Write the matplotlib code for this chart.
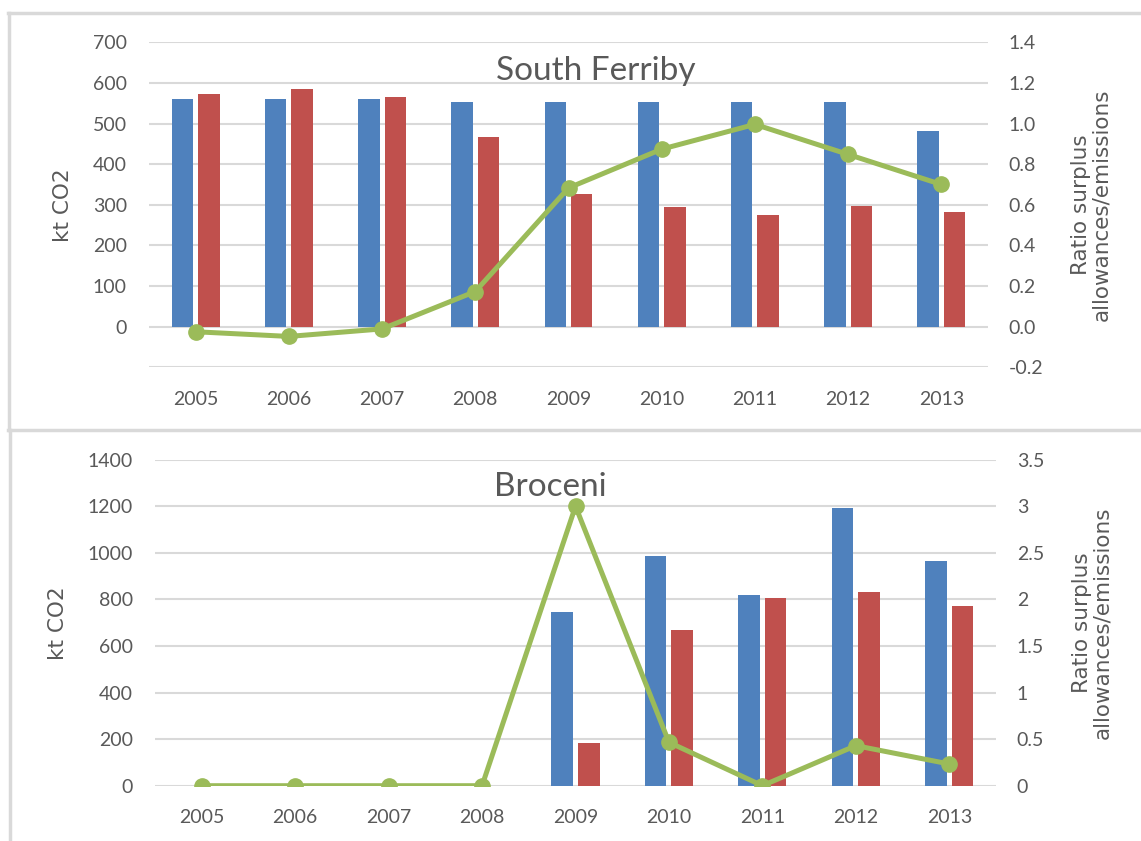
import matplotlib
matplotlib.use('Agg')
import matplotlib.pyplot as plt
from matplotlib.lines import Line2D
from matplotlib.ticker import FuncFormatter
import numpy as np

years = ['2005', '2006', '2007', '2008', '2009', '2010', '2011', '2012', '2013']

# South Ferriby
sf_blue = [560, 560, 560, 554, 554, 554, 554, 554, 481]
sf_red = [573, 586, 565, 468, 327, 295, 276, 298, 282]
sf_ratio = [-0.025, -0.048, -0.011, 0.173, 0.683, 0.874, 0.996, 0.848, 0.700]

# Broceni
br_blue = [0, 0, 0, 0, 744, 987, 817, 1192, 964]
br_red = [0, 0, 0, 0, 182, 667, 804, 833, 773]
br_ratio = [0, 0, 0, 0, 3.0, 0.466, 0.0, 0.43, 0.233]

BLUE = '#4f81bd'
RED = '#c0504d'
GREEN = '#9bbb59'
GRID = '#d9d9d9'
TXT = '#595959'

W, H = 1141, 841
fig = plt.figure(figsize=(W / 100, H / 100), dpi=100)
fig.patch.set_facecolor('white')

tick_font = 'Lato'
x = np.arange(len(years))
bw = 0.23
off = 0.142


def panel(rect, blue, red, ratio, ylim, yticks, rlim, rticks, rfmt, title, tx, ty):
    ax = fig.add_axes(rect)
    ax.bar(x - off, blue, bw, color=BLUE, zorder=2)
    ax.bar(x + off, red, bw, color=RED, zorder=2)
    ax.set_xlim(-0.5, len(years) - 0.5)
    ax.set_ylim(*ylim)
    ax.set_yticks(yticks)
    ax.yaxis.set_major_formatter(FuncFormatter(lambda v, p: '' if v < 0 else '%d' % v))
    ax.grid(axis='y', color=GRID, lw=1.5)
    ax.set_axisbelow(True)
    ax.set_xticks(x)
    ax.set_xticklabels(years)
    for s in ax.spines.values():
        s.set_visible(False)
    ax.tick_params(length=0, colors=TXT, labelsize=14)
    ax.tick_params(axis='y', pad=16)
    ax.tick_params(axis='x', pad=17)
    for lab in ax.get_xticklabels() + ax.get_yticklabels():
        lab.set_fontfamily(tick_font)
    ax.set_ylabel('kt CO2', color=TXT, fontsize=15.5, family='DejaVu Sans', labelpad=14)

    ax2 = ax.twinx()
    ax2.plot(x, ratio, color=GREEN, lw=3.6, marker='o', ms=11, zorder=5)
    ax2.set_ylim(*rlim)
    ax2.set_yticks(rticks)
    ax2.yaxis.set_major_formatter(FuncFormatter(rfmt))
    for s in ax2.spines.values():
        s.set_visible(False)
    ax2.tick_params(length=0, colors=TXT, labelsize=14, pad=15)
    for lab in ax2.get_yticklabels():
        lab.set_fontfamily(tick_font)
    ax2.set_ylabel('Ratio surplus\nallowances/emissions', color=TXT, fontsize=15.5,
                   family='DejaVu Sans', rotation=90, labelpad=20, linespacing=1.0)
    ax2.text(tx, ty, title, transform=ax.transAxes, ha='center', va='center',
             fontsize=24, color=TXT, family=tick_font)
    return ax, ax2


panel([149 / W, 1 - 367.3 / H, 839 / W, 325 / H], sf_blue, sf_red, sf_ratio,
      (-100, 700), np.arange(-100, 701, 100), (-0.2, 1.4), np.arange(-0.2, 1.41, 0.2),
      lambda v, p: '%.1f' % (0.0 if abs(v) < 1e-9 else v), 'South Ferriby', 0.532, 0.912)

panel([155 / W, 1 - 785.7 / H, 841 / W, 326 / H], br_blue, br_red, br_ratio,
      (0, 1400), np.arange(0, 1401, 200), (0, 3.5), np.arange(0, 3.51, 0.5),
      lambda v, p: '%g' % v, 'Broceni', 0.470, 0.915)

# panel borders
def hline(y, x0, x1):
    fig.add_artist(Line2D([x0 / W, x1 / W], [1 - y / H, 1 - y / H], color=GRID, lw=2.5))


def vline(xp, y0, y1):
    fig.add_artist(Line2D([xp / W, xp / W], [1 - y0 / H, 1 - y1 / H], color=GRID, lw=2.5))


hline(13, 8, W)
hline(430, 8, W)
vline(9, 13, 430)
vline(10, 430, H)

fig.savefig('out.png', dpi=100)
